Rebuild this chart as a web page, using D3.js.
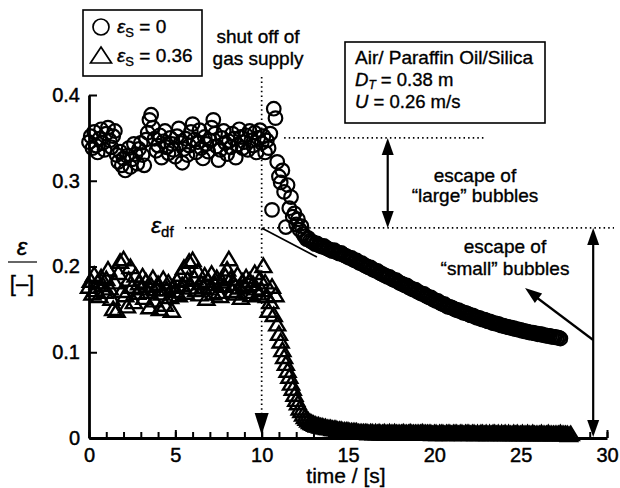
<!DOCTYPE html>
<html>
<head>
<meta charset="utf-8">
<script src="https://cdn.jsdelivr.net/npm/d3@7"></script>
<style>
  body { margin: 0; background: #fff; }
  svg  { display: block; font-family: "Liberation Sans", Arial, Helvetica, sans-serif; }
</style>
</head>
<body>
<svg id="chart" width="620" height="488"></svg>
<script>
/* ── Data: gas holdup ε vs time, sampled every DT seconds ── */
const DT = 0.1;

// εs = 0 (circles), t = 0 … 27.3 s
const epsS0 = [
  .345,.352,.338,.357,.341,.333,.349,.360,.344,.336,
  .355,.362,.347,.339,.352,.358,.330,.322,.334,.318,
  .326,.312,.329,.338,.316,.325,.343,.331,.320,.337,
  .344,.330,.318,.348,.356,.371,.377,.362,.349,.335,
  .341,.353,.327,.346,.358,.339,.332,.350,.343,.336,
  .328,.352,.361,.344,.321,.337,.349,.330,.341,.357,
  .366,.348,.333,.345,.359,.338,.326,.351,.343,.334,
  .347,.362,.371,.355,.340,.324,.336,.350,.358,.344,
  .331,.346,.339,.355,.349,.327,.342,.360,.351,.338,
  .345,.353,.336,.358,.347,.341,.356,.333,.350,.359,
  .344,.352,.333,.347,.338,
  .355,.266,.384,.373,.322,.305,.298,.312,.287,.246,
  .295,.268,.281,.258,.262,.249,.255,.243,.247,.238,
  .235,.232,.233,.230,.229,
  .228,.226,.227,.225,.224,.223,.224,.222,.221,.220,
  .219,.218,.219,.217,.216,.215,.216,.214,.213,.212,
  .211,.210,.210,.208,.207,.207,.205,.204,.204,.202,
  .201,.200,.199,.199,.197,.196,.195,.195,.193,.192,
  .191,.190,.189,.188,.188,.186,.185,.184,.184,.182,
  .181,.180,.179,.178,.178,.176,.175,.174,.173,.173,
  .171,.170,.169,.168,.168,.166,.165,.164,.164,.162,
  .161,.160,.160,.158,.157,.156,.156,.154,.153,.153,
  .152,.151,.150,.149,.149,.148,.147,.146,.146,.145,
  .144,.143,.143,.142,.141,.140,.140,.139,.138,.138,
  .137,.136,.136,.135,.134,.134,.133,.133,.132,.131,
  .131,.130,.130,.129,.129,.128,.128,.127,.127,.126,
  .126,.125,.125,.124,.124,.123,.123,.123,.122,.122,
  .121,.121,.121,.120,.120,.119,.119,.119,.118,.118,
  .118,.117,.117,.116
];

// εs = 0.36 (triangles), t = 0 … 27.9 s
const epsS036 = [
  .176,.183,.168,.190,.172,.181,.165,.187,.178,.170,
  .185,.196,.174,.162,.150,.181,.148,.192,.205,.171,
  .208,.166,.153,.184,.199,.176,.158,.189,.169,.180,
  .174,.188,.163,.182,.170,.152,.177,.186,.160,.173,
  .179,.150,.168,.185,.155,.173,.181,.164,.148,.176,
  .171,.183,.166,.190,.178,.198,.169,.184,.205,.175,
  .207,.186,.172,.194,.167,.180,.176,.189,.162,.183,
  .174,.191,.168,.179,.186,.170,.165,.182,.177,.188,
  .196,.208,.185,.171,.179,.168,.190,.175,.163,.182,
  .177,.187,.170,.183,.166,.179,.192,.174,.168,.185,
  .172,.200,.181,.165,.148,
  .158,.176,.143,.166,.132,.121,.112,.102,.094,.086,
  .078,.071,.063,.057,.050,.044,.040,.034,.031,.027,
  .024,.022,.020,.018,.017,.016,
  .015,.014,.014,.013,.013,.012,.012,.011,.011,
  .011,.010,.010,.010,.009,.009,.009,.008,.008,.008,
  .008,.007,.007,.007,.007,.007,.006,.006,.006,.006,
  .006,.006,.005,.006,.006,.005,.006,.005,.006,.005,
  .005,.006,.005,.005,.006,.005,.005,.006,.005,.005,
  .005,.005,.006,.005,.005,.005,.006,.005,.005,.005,
  .005,.005,.005,.006,.005,.005,.005,.005,.005,.004,
  .005,.005,.004,.005,.005,.005,.004,.005,.005,.005,
  .004,.005,.005,.005,.004,.005,.005,.004,.005,.005,
  .005,.004,.005,.005,.004,.005,.004,.005,.005,.004,
  .005,.004,.005,.004,.005,.005,.004,.005,.004,.005,
  .004,.005,.004,.005,.004,.004,.005,.004,.005,.004,
  .004,.005,.004,.004,.005,.004,.004,.005,.004,.004,
  .004,.004,.005,.004,.004,.004,.005,.004,.004,.004,
  .004,.004,.004,.005,.004,.004,.004,.004,.003,.004
];

const xTicksMajor = [0, 5, 10, 15, 20, 25, 30];
const xTicksMinor = d3.range(0, 31, 1);
const yTicks      = [0, 0.1, 0.2, 0.3, 0.4];

/* annotation anchors, in data units */
const T_SHUTOFF = 10;
const EPS_START = 0.35;     // level before "large" bubbles escape
const EPS_DF    = 0.245;    // dense-phase holdup
const TANGENT   = [[10, 0.245], [13.2, 0.211]];
const T_LARGE_ARROW = 17.3;
const T_SMALL_ARROW = 29.2;

/* ── Scales ── */
const svg = d3.select('#chart');
const x = d3.scaleLinear().domain([0, 30]).range([89, 607]);
const y = d3.scaleLinear().domain([0, 0.4]).range([438, 95]);

/* ── Axes ── */
const gxMinor = svg.append('g')
  .attr('transform', `translate(0,${y(0)})`)
  .call(d3.axisBottom(x).tickValues(xTicksMinor).tickSize(-6).tickFormat(''));
gxMinor.select('.domain').remove();

const gx = svg.append('g')
  .attr('transform', `translate(0,${y(0)})`)
  .call(d3.axisBottom(x).tickValues(xTicksMajor)
    .tickSizeInner(-8).tickSizeOuter(0).tickPadding(10)
    .tickFormat(d3.format('d')));

const gy = svg.append('g')
  .attr('transform', `translate(${x(0)},0)`)
  .call(d3.axisLeft(y).tickValues(yTicks)
    .tickSizeInner(-8).tickSizeOuter(0).tickPadding(9)
    .tickFormat(d => d === 0 ? '0' : d3.format('.1f')(d)));

svg.selectAll('.domain').attr('stroke-width', 2.8).attr('stroke', '#000');
svg.selectAll('.tick line').attr('stroke-width', 2).attr('stroke', '#000');
svg.selectAll('.tick text').attr('font-size', 20).attr('fill', '#000')
  .attr('stroke', '#000').attr('stroke-width', 0.45)
  .attr('font-family', '"Liberation Sans", Arial, sans-serif');

/* ── Reference / annotation lines (drawn under the data) ── */
const ann = svg.append('g').attr('stroke', '#000').attr('fill', 'none');
const dotted = { 'stroke-width': 1.7, 'stroke-dasharray': '1.5,3.1' };
function line(x1, y1, x2, y2, style) {
  const l = ann.append('line').attr('x1', x1).attr('y1', y1).attr('x2', x2).attr('y2', y2);
  Object.entries(style || { 'stroke-width': 1.8 }).forEach(([k, v]) => l.attr(k, v));
  return l;
}
line(x(T_SHUTOFF), 77, x(T_SHUTOFF), 414, dotted);
line(x(11.3), y(EPS_START), x(22.9), y(EPS_START), dotted);
line(185, y(EPS_DF), 614, y(EPS_DF), dotted);
line(x(TANGENT[0][0]), y(TANGENT[0][1]), x(TANGENT[1][0]), y(TANGENT[1][1]), { 'stroke-width': 1.7 });

/* ── Data marks ── */
svg.append('g')
  .selectAll('circle')
  .data(epsS0)
  .join('circle')
  .attr('cx', (d, i) => x(i * DT))
  .attr('cy', d => y(d))
  .attr('r', 6.8)
  .attr('fill', 'none')
  .attr('stroke', '#000')
  .attr('stroke-width', 2.2);

const tri = 'M0,-7.8L8,5.6L-8,5.6Z';
svg.append('g')
  .selectAll('path')
  .data(epsS036)
  .join('path')
  .attr('d', tri)
  .attr('transform', (d, i) => `translate(${x(i * DT)},${y(d)})`)
  .attr('fill', 'none')
  .attr('stroke', '#000')
  .attr('stroke-width', 2.4);

/* ── Arrows ── */
const arr = svg.append('g');
function head(tx, ty, dx, dy, len = 17, half = 6) {
  const n = Math.hypot(dx, dy); dx /= n; dy /= n;
  const bx = tx - dx * len, by = ty - dy * len;
  arr.append('path')
    .attr('d', `M${tx},${ty}L${bx - dy * half},${by + dx * half}L${bx + dy * half},${by - dx * half}Z`)
    .attr('fill', '#000');
}
function seg(x1, y1, x2, y2) {
  arr.append('line').attr('x1', x1).attr('y1', y1).attr('x2', x2).attr('y2', y2)
    .attr('stroke', '#000').attr('stroke-width', 2.2);
}
// shut-off arrow head
head(x(T_SHUTOFF), y(0) - 3, 0, 1, 22, 7);
// large bubbles double arrow
seg(x(T_LARGE_ARROW), y(EPS_START) + 10, x(T_LARGE_ARROW), y(EPS_DF) - 10);
head(x(T_LARGE_ARROW), y(EPS_START), 0, -1);
head(x(T_LARGE_ARROW), y(EPS_DF), 0, 1);
// small bubbles double arrow
seg(x(T_SMALL_ARROW), y(EPS_DF) + 10, x(T_SMALL_ARROW), y(0) - 10);
head(x(T_SMALL_ARROW), y(EPS_DF), 0, -1);
head(x(T_SMALL_ARROW), y(0) - 1, 0, 1);
// pointer to the small-bubble curve label
seg(x(T_SMALL_ARROW), 340, 532, 294);
head(525, 288, 525 - x(T_SMALL_ARROW), 288 - 340);

/* ── Text ── */
const txt = svg.append('g').attr('fill', '#000')
  .attr('stroke', '#000').attr('stroke-width', 0.35);
function label(tx, ty, s, anchor = 'middle', size = 19) {
  return txt.append('text').attr('x', tx).attr('y', ty)
    .attr('text-anchor', anchor).attr('font-size', size).text(s);
}
label(258, 43, 'shut off of');
label(258, 65, 'gas supply');
label(475, 182, 'escape of');
label(475, 202, '\u201Clarge\u201D bubbles');
label(505, 253, 'escape of');
label(505, 275, '\u201Csmall\u201D bubbles');
label(346, 483, 'time / [s]', 'middle', 21);

// ε_df
const edf = txt.append('text').attr('x', 151).attr('y', 233).attr('font-size', 23);
edf.append('tspan').attr('font-style', 'italic').text('\u03B5');
edf.append('tspan').attr('font-size', 15).attr('dy', 4).text('df');

// y-axis label: ε over [–]
txt.append('text').attr('x', 22).attr('y', 255).attr('text-anchor', 'middle')
  .attr('font-size', 24).attr('font-style', 'italic').text('\u03B5');
svg.append('line').attr('x1', 8).attr('x2', 37).attr('y1', 262).attr('y2', 262)
  .attr('stroke', '#000').attr('stroke-width', 1.2);
label(22, 291, '[\u2013]', 'middle', 22);

// legend box
svg.append('rect').attr('x', 83).attr('y', 10).attr('width', 119).attr('height', 66)
  .attr('fill', 'none').attr('stroke', '#000').attr('stroke-width', 1.6);
svg.append('circle').attr('cx', 101).attr('cy', 27).attr('r', 8)
  .attr('fill', 'none').attr('stroke', '#000').attr('stroke-width', 1.7);
svg.append('path').attr('d', 'M0,-9L10.5,7L-10.5,7Z').attr('transform', 'translate(101,56)')
  .attr('fill', 'none').attr('stroke', '#000').attr('stroke-width', 1.7);
[['= 0', 33], ['= 0.36', 62]].forEach(([s, by]) => {
  const t = txt.append('text').attr('x', 117).attr('y', by).attr('font-size', 19);
  t.append('tspan').attr('font-style', 'italic').text('\u03B5');
  t.append('tspan').attr('font-size', 13).attr('dy', 4).text('S');
  t.append('tspan').attr('dy', -4).text(' ' + s);
});

// condition box
svg.append('rect').attr('x', 345).attr('y', 42).attr('width', 200).attr('height', 81)
  .attr('fill', 'none').attr('stroke', '#000').attr('stroke-width', 1.6);
label(355, 64, 'Air/ Paraffin Oil/Silica', 'start');
const dt = txt.append('text').attr('x', 355).attr('y', 86).attr('font-size', 18.5);
dt.append('tspan').attr('font-style', 'italic').text('D');
dt.append('tspan').attr('font-style', 'italic').attr('font-size', 12).attr('dy', 3).text('T');
dt.append('tspan').attr('dy', -3).text(' = 0.38 m');
const ut = txt.append('text').attr('x', 355).attr('y', 108).attr('font-size', 18.5);
ut.append('tspan').attr('font-style', 'italic').text('U');
ut.append('tspan').text(' = 0.26 m/s');
</script>
</body>
</html>
